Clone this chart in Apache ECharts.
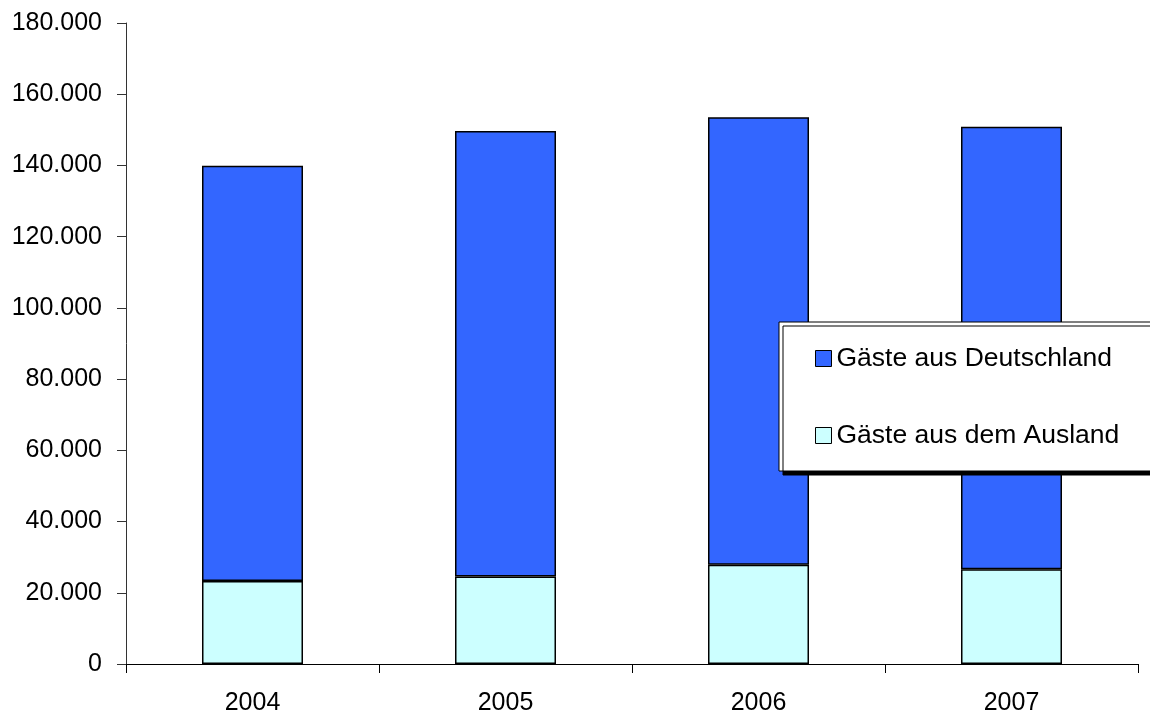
<!DOCTYPE html>
<html>
<head>
<meta charset="utf-8">
<script src="https://cdn.jsdelivr.net/npm/echarts@6/dist/echarts.min.js"></script>
<style>
  html, body { margin: 0; padding: 0; background: #fff; }
  #chart { width: 1150px; height: 716px; }
</style>
</head>
<body>
<div id="chart"></div>
<script>
// Übernachtungsgäste nach Herkunft, 2004–2007
const years = ["2004", "2005", "2006", "2007"];
const auslandGaeste = [23300, 24600, 27900, 26600];
const deutschlandGaeste = [116600, 125100, 125600, 124300];
const seriesNames = ["Gäste aus Deutschland", "Gäste aus dem Ausland"];

const chart = echarts.init(document.getElementById("chart"));

const fmt = (v) => v === 0 ? "0" : v.toLocaleString("de-DE");
const font = "Liberation Sans, Arial, sans-serif";

chart.setOption({
  animation: false,
  grid: { left: 126, right: 12, top: 23, bottom: 51 },
  legend: {
    data: seriesNames,
    orient: "vertical",
    left: 779,
    top: 322,
    itemWidth: 16,
    itemHeight: 16,
    itemGap: 50,
    padding: [23, 60, 22, 36],
    backgroundColor: "#fff",
    borderColor: "#000",
    borderWidth: 1,
    borderRadius: 0,
    shadowColor: "#000",
    shadowBlur: 0,
    shadowOffsetX: 4,
    shadowOffsetY: 4,
    icon: "rect",
    itemStyle: { borderColor: "#000", borderWidth: 1 },
    textStyle: { fontFamily: font, fontSize: 26.5, color: "#000" },
    selectedMode: false
  },
  xAxis: {
    type: "category",
    data: years,
    axisLine: { lineStyle: { color: "#000", width: 1 } },
    axisTick: { show: true, length: 9, lineStyle: { color: "#000" } },
    axisLabel: { fontFamily: font, fontSize: 25, color: "#000", margin: 27 }
  },
  yAxis: {
    type: "value",
    min: 0,
    max: 180000,
    interval: 20000,
    splitLine: { show: false },
    axisLine: { show: true, lineStyle: { color: "#333", width: 1 } },
    axisTick: { show: true, length: 9, lineStyle: { color: "#333" } },
    axisLabel: { fontFamily: font, fontSize: 25, color: "#000", margin: 24, formatter: fmt }
  },
  series: [
    {
      name: seriesNames[1],
      type: "bar",
      stack: "gaeste",
      data: auslandGaeste,
      barWidth: 101,
      itemStyle: { color: "#CCFFFF", borderColor: "#000", borderWidth: 1.5 }
    },
    {
      name: seriesNames[0],
      type: "bar",
      stack: "gaeste",
      data: deutschlandGaeste,
      barWidth: 101,
      itemStyle: { color: "#3366FF", borderColor: "#000", borderWidth: 1.5 }
    }
  ]
});
</script>
</body>
</html>
